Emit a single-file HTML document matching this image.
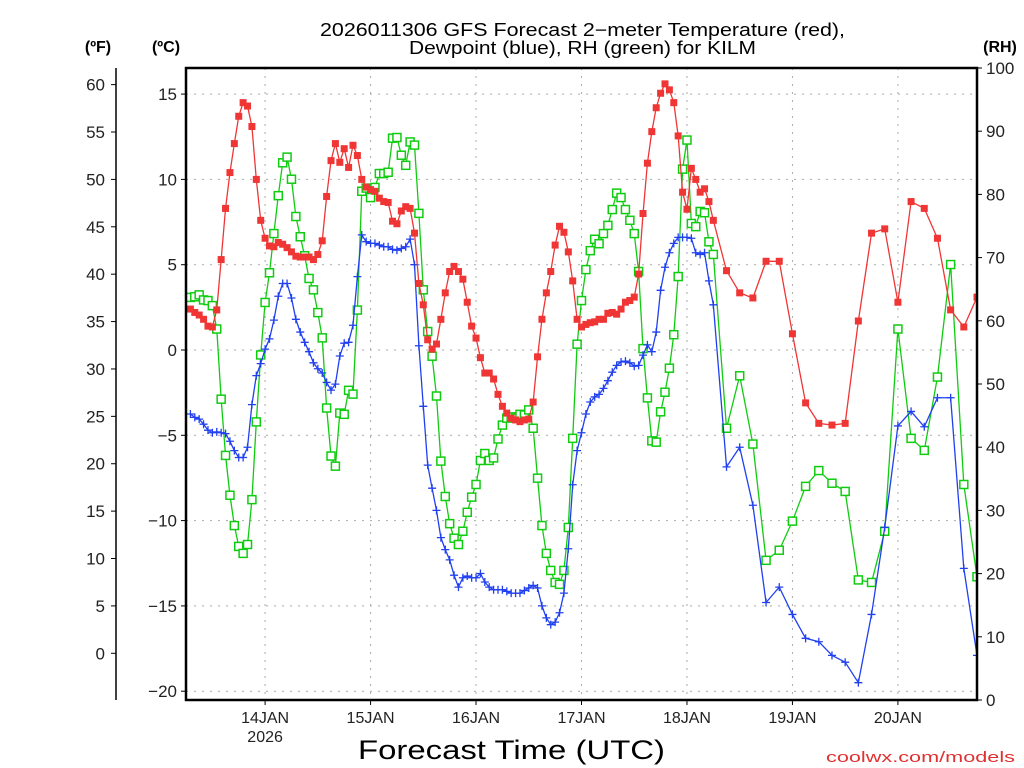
<!DOCTYPE html>
<html><head><meta charset="utf-8"><style>
body{margin:0;background:#fff;}
svg{display:block;font-family:"Liberation Sans",sans-serif;}
</style></head><body>
<svg id="chart" width="1024" height="768" viewBox="0 0 1024 768">
<text x="320" y="36" textLength="525" lengthAdjust="spacingAndGlyphs" font-size="18" fill="#000">2026011306 GFS Forecast 2−meter Temperature (red),</text>
<text x="409" y="54" textLength="347" lengthAdjust="spacingAndGlyphs" font-size="18" fill="#000">Dewpoint (blue), RH (green) for KILM</text>
<text x="98" y="52" text-anchor="middle" font-size="16" font-weight="bold">(ºF)</text>
<text x="166" y="52" text-anchor="middle" font-size="16" font-weight="bold">(ºC)</text>
<text x="1000" y="52" text-anchor="middle" font-size="16" font-weight="bold">(RH)</text>
<text x="358" y="759" textLength="307" lengthAdjust="spacingAndGlyphs" font-size="27">Forecast Time (UTC)</text>
<text x="826" y="762" textLength="189" lengthAdjust="spacingAndGlyphs" font-size="15" fill="#e03030">coolwx.com/models</text>
<g id="grid"></g><g id="series"></g><g id="axes"></g>
</svg>
<script>
const redHourly=[2.4,2.2,2.05,1.8,1.4,1.35,2.35,5.3,8.3,10.4,12.1,13.7,14.5,14.3,13.1,10,7.6,6.55,6.1,6.05,6.3,6.2,6,5.75,5.5,5.45,5.45,5.45,5.3,5.6,6.4,9,11.1,12.1,11,11.8,10.7,12,11.4,10,9.55,9.4,9.3,8.9,8.7,
8.65,7.55,7.4,8.15,8.4,8.3,6.85,3.9,2.65,0.6,0.05,0.35,1.8,3.35,4.6,4.9,4.6,4.15,2.8,1.4,0.7,-0.45,-1.35,-1.35,-1.7,-2.6,-3.3,-3.7,-4,-4.1,-4.2,-4.1,-4.05,-3.05,-0.4,1.8,3.35,4.6,6.15,7.25,6.9,5.75,4.05,1.8,1.35,
1.5,1.6,1.65,1.8,1.8,2.15,2.2,2.1,2.4,2.8,2.9,3.1,4.45,8,10.95,12.8,14.2,15.05,15.6,15.25,14.5,12.55,9.25,8.25,10.65,10,9.25,9.45,8.7,7.6];
const red3h=[4.65,3.35,3.05,5.2,5.2,0.95,-3.1,-4.3,-4.4,-4.3,1.7,6.85,7.1,2.8,8.7,8.3,6.55,2.35,1.35,3.1];
const blueHourly=[-3.75,-3.95,-4.05,-4.35,-4.7,-4.85,-4.8,-4.85,-4.9,-5.35,-5.9,-6.3,-6.3,-5.7,-3.2,-1.5,-0.8,0.05,0.65,1.75,3.15,3.9,3.9,3.05,1.8,1.05,0.45,-0.1,-0.75,-1.1,-1.35,-1.9,-2.35,-2,-0.35,0.4,0.45,1.45,4.3,6.75,6.35,6.25,6.25,6.15,6.05,
6.05,5.9,5.85,5.95,6.05,6.5,5,0.25,-3.3,-6.75,-8.1,-9.4,-11,-11.7,-12.3,-13.2,-13.9,-13.35,-13.25,-13.35,-13.35,-13.1,-13.6,-13.9,-14.05,-14.05,-14.05,-14.15,-14.25,-14.25,-14.25,-14.1,-13.95,-13.8,-13.95,-15,-15.7,-16.1,-15.95,-15.4,-14.25,-11.65,-7.9,-5.9,-4.85,
-3.75,-3.05,-2.75,-2.6,-2.25,-1.8,-1.3,-0.9,-0.7,-0.65,-0.75,-0.95,-0.9,-0.3,0.3,-0.1,1.05,3.5,4.85,5.7,6.25,6.6,6.6,6.6,6.55,5.7,5.6,5.7,4.05,2.65];
const blue3h=[-6.85,-5.7,-9.1,-14.8,-13.9,-15.5,-16.9,-17.1,-17.9,-18.3,-19.5,-15.5,-10.4,-4.45,-3.6,-4.5,-2.8,-2.8,-12.8,-17.9];
const greenHourly=[63.7,63.8,64.1,63.3,63.2,62.4,58.7,47.6,38.7,32.4,27.6,24.3,23.2,24.6,31.7,44,54.6,62.9,67.6,73.8,79.8,85,85.9,82.4,76.5,73.3,70.3,66.7,64.9,61.3,57.3,46.2,38.6,37,45.4,45.2,49,48.4,61.7,80.5,81,79.5,81.1,83.3,83.3,
83.5,88.9,89,86.2,84.6,88.3,87.8,77,64.9,58.3,54.4,48.1,37.8,32.2,27.9,25.6,24.6,26.7,29.7,32.1,34.1,37.9,39,37.9,38.3,41.3,43.5,44.6,44.8,44.6,45.2,45.1,45.9,43,35.1,27.6,23.2,20.5,18.6,18.3,20.5,27.3,41.4,56.3,63.2,
68.1,71.1,72.9,72.2,73.8,75.1,77.6,80.2,79.5,77.6,75.9,73.8,67.8,55.6,47.8,41,40.8,45.6,48.7,52.5,57.8,67,84,88.6,75.4,74.9,77.3,77.1,72.5,70.5];
const green3h=[43,51.3,40.5,22.1,23.7,28.3,33.8,36.3,34.3,33,19,18.6,26.7,58.7,41.4,39.5,51.1,68.9,34.1,19.5];
const dayLabels=["14JAN","15JAN","16JAN","17JAN","18JAN","19JAN","20JAN"];
const dayHours=[24,48,72,96,120,144,168];
const cTicks=[15,10,5,0,-5,-10,-15,-20];
const fTicks=[60,55,50,45,40,35,30,25,20,15,10,5,0];
const rhTicks=[100,90,80,70,60,50,40,30,20,10,0];

const NS="http://www.w3.org/2000/svg";
const L=186,R=977,T=68,B=700;
const xS=h=>L+(h-6)*(R-L)/180;
const yC=c=>350-c*17.06;
const yF=f=>yC((f-32)*5/9);
const yRH=r=>B-r*6.32;
function mk(tag,attrs,parent){const e=document.createElementNS(NS,tag);for(const k in attrs)e.setAttribute(k,attrs[k]);parent.appendChild(e);return e;}
const grid=document.getElementById('grid'),ser=document.getElementById('series'),ax=document.getElementById('axes');
const hours=[];for(let h=7;h<=126;h++)hours.push(h);for(let h=129;h<=186;h+=3)hours.push(h);

cTicks.forEach(c=>{const y=yC(c);
 const g=mk('line',{x1:L,x2:R,y1:y,y2:y,stroke:'#aaa','stroke-dasharray':'2,6'},grid);
 
 
 mk('line',{x1:L-5,x2:L,y1:y,y2:y,stroke:'#000'},ax);
 const t=mk('text',{x:L-9,y:y+6,'text-anchor':'end','font-size':17,fill:'#222'},ax);t.textContent=c<0?'−'+(-c):c;
 
 
});
dayHours.forEach((h,i)=>{const x=xS(h);
 const g=mk('line',{x1:x,x2:x,y1:T,y2:B,stroke:'#aaa','stroke-dasharray':'2,6'},grid);
 
 
 mk('line',{x1:x,x2:x,y1:B,y2:B+5,stroke:'#000'},ax);
 const t=mk('text',{x:x,y:723,'text-anchor':'middle','font-size':16,fill:'#222'},ax);t.textContent=dayLabels[i];
 
 
});
const yr=mk('text',{x:xS(24),y:742,'text-anchor':'middle','font-size':16,fill:'#222'},ax);yr.textContent='2026';


mk('line',{x1:116,x2:116,y1:T,y2:B,stroke:'#000','stroke-width':1.5},ax);
fTicks.forEach(f=>{const y=yF(f);
 mk('line',{x1:111,x2:116,y1:y,y2:y,stroke:'#000'},ax);
 const t=mk('text',{x:105,y:y+6,'text-anchor':'end','font-size':17,fill:'#222'},ax);t.textContent=f;
 
 
});
rhTicks.forEach(r=>{const y=yRH(r);
 mk('line',{x1:R,x2:R+5,y1:y,y2:y,stroke:'#000'},ax);
 const t=mk('text',{x:986,y:y+6,'text-anchor':'start','font-size':17,fill:'#222'},ax);t.textContent=r;
 
 
});
const box=mk('rect',{x:L,y:T,width:R-L,height:B-T,fill:'none',stroke:'#000','stroke-width':2.5},ax);



const defs=mk('defs',{},ser);const cp=mk('clipPath',{id:'pc'},defs);mk('rect',{x:L,y:T,width:R-L,height:B-T},cp);
function draw(vals,yf,color,kind,name){
 const g=mk('g',{'clip-path':'url(#pc)'},ser);
 
 
 const pts=vals.map((v,i)=>[xS(hours[i]),yf(v)]);
 const pl=mk('polyline',{points:pts.map(p=>p.join(',')).join(' '),fill:'none',stroke:color,'stroke-width':1.3},g);
 
 
 pts.forEach(([x,y])=>{let m;
  if(kind==='fill')m=mk('rect',{x:x-3.5,y:y-3.5,width:7,height:7,fill:color},g);
  else if(kind==='open')m=mk('rect',{x:x-4,y:y-4,width:8,height:8,fill:'#fff',stroke:color,'stroke-width':1.5},g);
  else m=mk('path',{d:`M${x-4},${y}H${x+4}M${x},${y-4}V${y+4}`,stroke:color,'stroke-width':1.3},g);
  
  
 });
}
draw(greenHourly.concat(green3h),yRH,'#10cc10','open','rh');
draw(blueHourly.concat(blue3h),yC,'#2040f0','plus','dewpoint');
draw(redHourly.concat(red3h),yC,'#f03535','fill','temperature');
</script>
</body></html>
